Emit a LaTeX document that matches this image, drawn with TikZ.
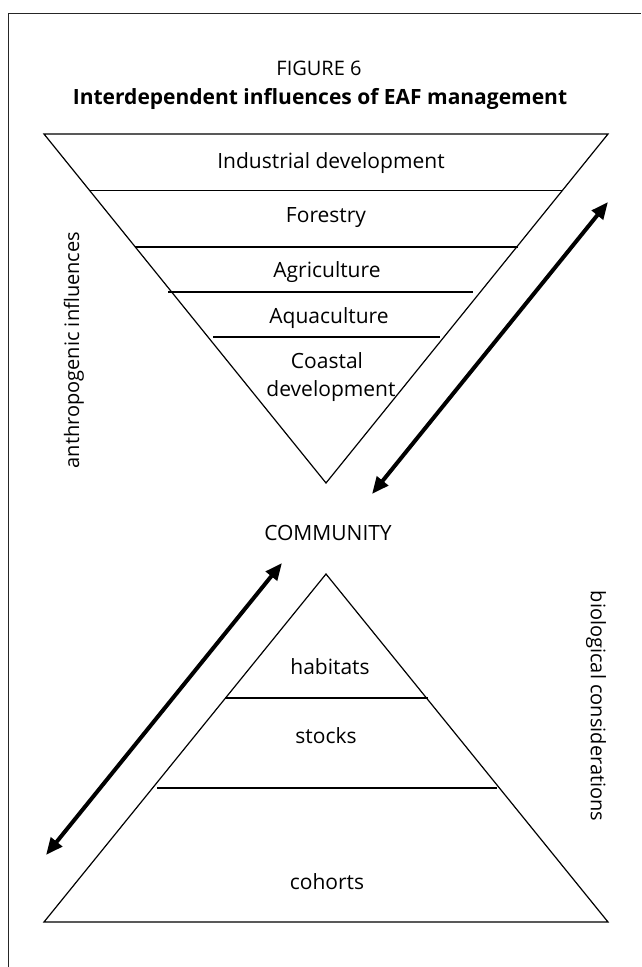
\documentclass[tikz,border=0pt]{standalone}
\usepackage{fontspec}
\setmainfont{Open Sans}
\usetikzlibrary{arrows.meta}
\begin{document}
\begin{tikzpicture}[x=1pt,y=-1pt,
  frameline/.style={line width=1pt,draw=black!85},
  tri/.style={draw,line width=1.2pt,line join=miter},
  divider/.style={line width=1.2pt},
  lbl/.style={font=\fontsize{21}{28}\selectfont,anchor=base,inner sep=0pt},
  sidelbl/.style={font=\fontsize{20}{26}\selectfont,inner sep=0pt},
  dblarrow/.style={line width=4pt,{Triangle[length=17pt,width=14pt]}-{Triangle[length=17pt,width=14pt]}}]
\useasboundingbox (0,0) rectangle (641,967);
% frame
\coordinate (fbl) at (8,967);
\coordinate (ftl) at (8,13);
\coordinate (ftr) at (641,13);
\draw[frameline] (fbl) -- (ftl) -- (ftr);
% titles
\node[lbl,font=\fontsize{20}{26}\selectfont] (fig) at (319,75) {FIGURE 6};
\node[lbl,font=\fontsize{21}{26}\selectfont\bfseries] (title) at (320,104) {Interdependent influences of EAF management};
% upper (inverted) triangle
\coordinate (t1) at (44,134);
\coordinate (t2) at (608,134);
\coordinate (t3) at (326,483);
\draw[tri] (t1) -- (t2) -- (t3) -- cycle;
\coordinate (a1l) at (90,190.5);  \coordinate (a1r) at (562,190.5);
\coordinate (a2l) at (135,247);   \coordinate (a2r) at (518,247);
\coordinate (a3l) at (168,292);   \coordinate (a3r) at (473,292);
\coordinate (a4l) at (213,337);   \coordinate (a4r) at (440,337);
\draw[divider] (a1l) -- (a1r);
\draw[divider] (a2l) -- (a2r);
\draw[divider] (a3l) -- (a3r);
\draw[divider] (a4l) -- (a4r);
\node[lbl] (ind) at (331,168) {Industrial development};
\node[lbl] (for) at (326,222) {Forestry};
\node[lbl] (agr) at (327,277) {Agriculture};
\node[lbl] (aqu) at (329,323) {Aquaculture};
\node[lbl] (coa1) at (327,368) {Coastal};
\node[lbl] (coa2) at (331,396) {development};
% community
\node[lbl] (com) at (328,540) {COMMUNITY};
% lower triangle
\coordinate (b1) at (326,574);
\coordinate (b2) at (608,922);
\coordinate (b3) at (44,922);
\draw[tri] (b1) -- (b2) -- (b3) -- cycle;
\coordinate (h1l) at (225,698);  \coordinate (h1r) at (428,698);
\coordinate (h2l) at (157,788);  \coordinate (h2r) at (497,788);
\draw[divider] (h1l) -- (h1r);
\draw[divider] (h2l) -- (h2r);
\node[lbl] (hab) at (330,674) {habitats};
\node[lbl] (sto) at (326,743) {stocks};
\node[lbl] (coh) at (327,889) {cohorts};
% side labels
\node[sidelbl,rotate=90] (anth) at (74,350) {anthropogenic influences};
\node[sidelbl,rotate=-90] (bio) at (596,706) {biological considerations};
% arrows
\coordinate (p1) at (608,202);
\coordinate (p2) at (372,494);
\coordinate (q1) at (282,563);
\coordinate (q2) at (46,855);
\draw[dblarrow] (p1) -- (p2);
\draw[dblarrow] (q1) -- (q2);
\end{tikzpicture}
\end{document}
